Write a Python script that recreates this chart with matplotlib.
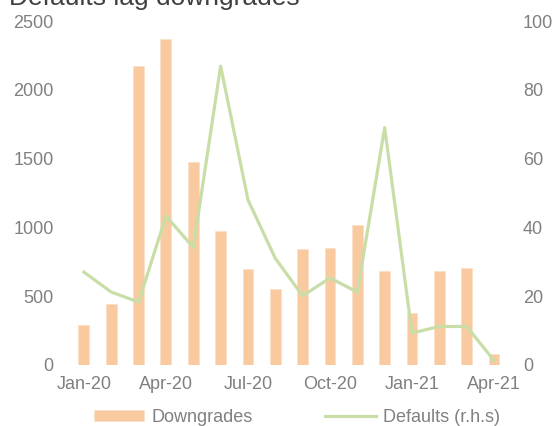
import numpy as np
import matplotlib
matplotlib.use('Agg')
import matplotlib.pyplot as plt

plt.rcParams['font.family'] = ['Liberation Sans', 'DejaVu Sans']

# monthly data, Jan-20 .. Apr-21
months = ['Jan-20', 'Feb-20', 'Mar-20', 'Apr-20', 'May-20', 'Jun-20', 'Jul-20', 'Aug-20',
          'Sep-20', 'Oct-20', 'Nov-20', 'Dec-20', 'Jan-21', 'Feb-21', 'Mar-21', 'Apr-21']
downgrades = [290, 443, 2170, 2372, 1475, 974, 698, 552,
              840, 853, 1020, 686, 378, 686, 705, 80]
defaults = [27, 21.2, 18.3, 43.3, 34.2, 86.9, 48, 31,
            20.1, 25.3, 21.2, 69, 9.3, 11.2, 11.2, 1.3]
tick_every = 3

BAR_C = '#F9C9A0'
LINE_C = '#C9DEA7'
TXT_C = '#808080'

fig = plt.figure(figsize=(5.56, 4.26), dpi=100)
ax = fig.add_axes([0.1264, 0.1432, 0.7867, 0.8075])
ax2 = ax.twinx()

x = np.arange(len(months))
ax.bar(x, downgrades, 0.4, color=BAR_C, edgecolor='#FCE0C8', lw=0.6, label='Downgrades')
ax2.plot(x, defaults, color=LINE_C, lw=2.3, label='Defaults (r.h.s)')

ax.set_xlim(-0.5, len(months) - 0.5)
ax.set_ylim(0, 2500)
ax2.set_ylim(0, 100)
ax.set_yticks(np.arange(0, 2501, 500))
ax2.set_yticks(np.arange(0, 101, 20))
ax.set_xticks(x[::tick_every])
ax.set_xticklabels(months[::tick_every])

for a in (ax, ax2):
    for s in a.spines.values():
        s.set_visible(False)
    a.tick_params(length=0, labelsize=13, labelcolor=TXT_C)
ax.tick_params(axis='y', pad=12)
ax2.tick_params(axis='y', pad=11)
ax.tick_params(axis='x', pad=8)

fig.text(0.016, 1 - 5 / 426, 'Defaults lag downgrades', fontsize=19,
         color='#404040', va='baseline', ha='left')

h1, l1 = ax.get_legend_handles_labels()
h2, l2 = ax2.get_legend_handles_labels()
fig.legend(h1 + h2, l1 + l2, loc='center', bbox_to_anchor=(0.534, 9 / 426),
           ncol=2, frameon=False, fontsize=13, labelcolor=TXT_C,
           handlelength=2.8, handleheight=0.55, handletextpad=0.4,
           columnspacing=4.0, borderpad=0)

fig.savefig('out.png', dpi=100)
